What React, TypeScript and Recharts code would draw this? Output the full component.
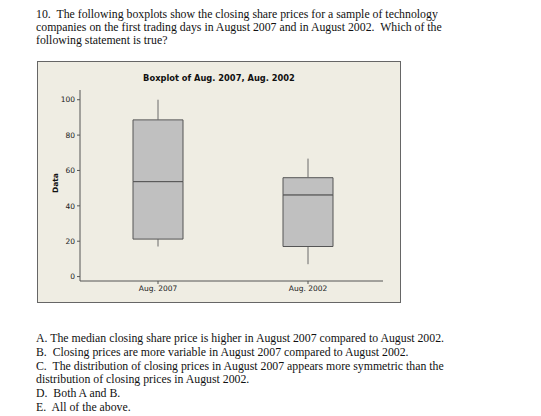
import { ComposedChart, Bar, XAxis, YAxis } from 'recharts'

const categories = ['Aug. 2007', 'Aug. 2002']
const minValues = [17, 7]
const q1Values = [21.2, 17]
const medianValues = [53.7, 46.2]
const q3Values = [88.6, 55.9]
const maxValues = [100, 66.7]
const yTicks = [0, 20, 40, 60, 80, 100]

const questionLines = [
  '10.  The following boxplots show the closing share prices for a sample of technology',
  'companies on the first trading days in August 2007 and in August 2002.  Which of the',
  'following statement is true?',
]

const answerLines = [
  'A. The median closing share price is higher in August 2007 compared to August 2002.',
  'B.  Closing prices are more variable in August 2007 compared to August 2002.',
  'C.  The distribution of closing prices in August 2007 appears more symmetric than the',
  'distribution of closing prices in August 2002.',
  'D.  Both A and B.',
  'E.  All of the above.',
]

const chartData = categories.map((name, i) => ({
  name,
  base: minValues[i],
  lowWhisker: q1Values[i] - minValues[i],
  lowBox: medianValues[i] - q1Values[i],
  highBox: q3Values[i] - medianValues[i],
  highWhisker: maxValues[i] - q3Values[i],
}))

const Whisker = (props: any) => {
  const { x, y, width, height } = props
  const cx = x + width / 2
  return <line x1={cx} x2={cx} y1={y} y2={y + height} stroke="#6a6a6a" strokeWidth={1} />
}

const tickStyle = { fontSize: 7.5, fontFamily: 'DejaVu Sans', fill: '#1a1a1a' }

export default function App() {
  return (
    <div
      style={{
        position: 'absolute',
        left: 0,
        top: 0,
        width: 541,
        height: 416,
        background: '#fff',
        fontFamily: '"Liberation Serif", serif',
        fontSize: 11.8,
        color: '#111',
      }}
    >
      {questionLines.map((t, i) => (
        <div key={t} style={{ position: 'absolute', left: 36, top: 8 + i * 13, whiteSpace: 'pre', lineHeight: '12px' }}>
          {t}
        </div>
      ))}

      <div
        style={{
          position: 'absolute',
          left: 37,
          top: 61,
          width: 362,
          height: 240,
          background: '#efede3',
          border: '1px solid #666',
        }}
      >
        <div
          style={{
            position: 'absolute',
            left: 0,
            right: 0,
            top: 11,
            textAlign: 'center',
            fontFamily: 'DejaVu Sans',
            fontWeight: 'bold',
            fontSize: 8.3,
            color: '#111',
          }}
        >
          Boxplot of Aug. 2007, Aug. 2002
        </div>
        <div
          style={{
            position: 'absolute',
            left: 13,
            top: 131,
            transform: 'rotate(-90deg)',
            transformOrigin: 'left top',
            fontFamily: 'DejaVu Sans',
            fontWeight: 'bold',
            fontSize: 7.5,
            color: '#111',
          }}
        >
          Data
        </div>
        <ComposedChart
          width={362}
          height={240}
          data={chartData}
          margin={{ top: 28, right: 17, left: 0, bottom: 0 }}
          barCategoryGap={0}
        >
          <XAxis
            dataKey="name"
            tickSize={3}
            tick={tickStyle}
            height={21}
            padding={{ left: 3, right: 0 }}
            axisLine={{ stroke: '#555' }}
            tickLine={{ stroke: '#555' }}
          />
          <XAxis xAxisId="top" orientation="top" dataKey="name" height={0} tick={false} tickLine={false} axisLine={{ stroke: '#555' }} />
          <YAxis
            domain={[-2.5, 105.5]}
            ticks={yTicks}
            tickSize={3}
            tick={tickStyle}
            width={42}
            axisLine={{ stroke: '#555' }}
            tickLine={{ stroke: '#555' }}
            interval={0}
          />
          <YAxis yAxisId="right" orientation="right" width={0} tick={false} tickLine={false} axisLine={{ stroke: '#555' }} />
          <Bar dataKey="base" stackId="a" fill="transparent" barSize={50} isAnimationActive={false} />
          <Bar dataKey="lowWhisker" stackId="a" barSize={50} shape={Whisker} isAnimationActive={false} />
          <Bar dataKey="lowBox" stackId="a" barSize={50} fill="#c0c0c0" stroke="#555" strokeWidth={1} isAnimationActive={false} />
          <Bar dataKey="highBox" stackId="a" barSize={50} fill="#c0c0c0" stroke="#555" strokeWidth={1} isAnimationActive={false} />
          <Bar dataKey="highWhisker" stackId="a" barSize={50} shape={Whisker} isAnimationActive={false} />
        </ComposedChart>
      </div>

      {answerLines.map((t, i) => (
        <div key={t} style={{ position: 'absolute', left: 36, top: 332 + i * 13.8, whiteSpace: 'pre', lineHeight: '12px' }}>
          {t}
        </div>
      ))}
    </div>
  )
}
